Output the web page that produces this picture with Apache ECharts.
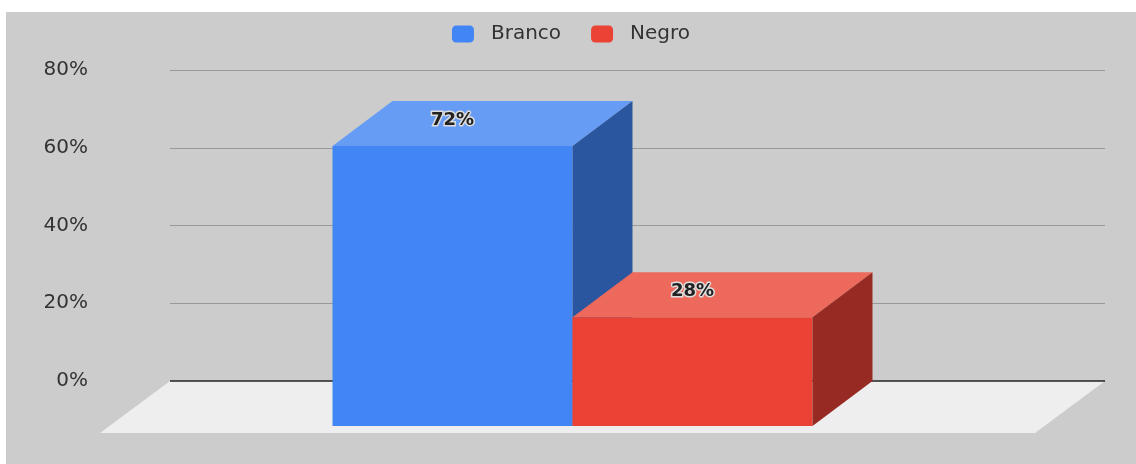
<!DOCTYPE html>
<html>
<head>
<meta charset="utf-8">
<script src="https://cdn.jsdelivr.net/npm/echarts@6/dist/echarts.min.js"></script>
<style>
html,body{margin:0;padding:0;background:#ffffff;}
#chart{position:absolute;left:6px;top:12px;width:1130px;height:452px;}
</style>
</head>
<body>
<div id="chart"></div>
<script>
const categories = ['Cor'];
const seriesNames = ['Branco', 'Negro'];
const brancoValues = [72];
const negroValues = [28];
const yTicks = [0, 20, 40, 60, 80];

const palette = [
  {front: '#4285f4', top: '#679cf5', side: '#2a56a0'},
  {front: '#ea4335', top: '#ed695c', side: '#972a22'}
];
const BAR_W = 240, DX = 60, DY = 45;

function barRenderer(idx) {
  return function (params, api) {
    const cat = api.value(0);
    const val = api.value(1);
    const base = api.coord([cat, 0]);
    const top = api.coord([cat, val]);
    const x0 = base[0] - 245 + idx * BAR_W;
    const c = palette[idx];
    const fx = x0 - DX;
    const fTop = top[1] + DY;
    const fBot = base[1] + DY;
    return {
      type: 'group',
      children: [
        {type: 'rect', shape: {x: fx, y: fTop, width: BAR_W, height: fBot - fTop}, style: {fill: c.front}},
        {type: 'polygon', shape: {points: [[fx, fTop], [fx + BAR_W, fTop], [x0 + BAR_W, top[1]], [x0, top[1]]]}, style: {fill: c.top}},
        {type: 'polygon', shape: {points: [[fx + BAR_W, fTop], [x0 + BAR_W, top[1]], [x0 + BAR_W, base[1]], [fx + BAR_W, fBot]]}, style: {fill: c.side}},
        {type: 'text', x: fx + BAR_W / 2, y: (top[1] + fTop) / 2 - 3,
          style: {text: val + '%', fill: '#222222', stroke: '#dddddd', lineWidth: 3,
            font: 'bold 18px "DejaVu Sans"', align: 'center', verticalAlign: 'middle'}}
      ]
    };
  };
}

function floorRenderer(params, api) {
  const cs = params.coordSys;
  const yb = cs.y + cs.height;
  const FX = 70, FY = 52;
  return {
    type: 'group',
    children: [
      {type: 'polygon', shape: {points: [[cs.x, yb], [cs.x + cs.width, yb], [cs.x + cs.width - FX, yb + FY], [cs.x - FX, yb + FY]]},
        style: {fill: '#eeeeee'}},
      {type: 'line', shape: {x1: cs.x, y1: yb, x2: cs.x + cs.width, y2: yb}, style: {stroke: '#222222', lineWidth: 1.5}}
    ]
  };
}

const chart = echarts.init(document.getElementById('chart'));
chart.setOption({
  backgroundColor: '#cccccc',
  animation: false,
  legend: {
    data: seriesNames,
    top: 7,
    left: 'center',
    itemWidth: 22,
    itemHeight: 17,
    itemGap: 30,
    icon: 'roundRect',
    textStyle: {fontFamily: 'DejaVu Sans', fontSize: 20, color: '#333333', padding: [0, 0, 0, 12]}
  },
  grid: {left: 164, right: 31, top: 58, bottom: 83},
  xAxis: {
    type: 'category',
    data: categories,
    axisLine: {show: false},
    axisTick: {show: false},
    axisLabel: {show: false}
  },
  yAxis: {
    type: 'value',
    min: yTicks[0],
    max: yTicks[yTicks.length - 1],
    interval: 20,
    axisLine: {show: false},
    axisTick: {show: false},
    splitLine: {lineStyle: {color: '#999999', width: 1}},
    axisLabel: {formatter: '{value}%', fontFamily: 'DejaVu Sans', fontSize: 20, color: '#333333', margin: 82}
  },
  series: [
    {type: 'custom', name: '_floor', z: 1, silent: true, renderItem: floorRenderer, data: [[0, 0]]},
    {type: 'custom', name: seriesNames[0], z: 2, itemStyle: {color: palette[0].front}, renderItem: barRenderer(0), data: categories.map((c, i) => [i, brancoValues[i]])},
    {type: 'custom', name: seriesNames[1], z: 3, itemStyle: {color: palette[1].front}, renderItem: barRenderer(1), data: categories.map((c, i) => [i, negroValues[i]])}
  ]
});
</script>
</body>
</html>
